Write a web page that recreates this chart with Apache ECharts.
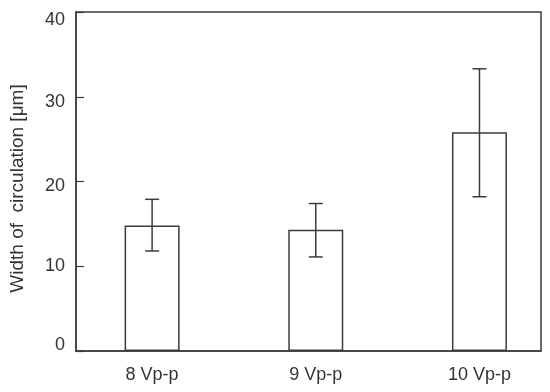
<!DOCTYPE html>
<html>
<head>
<meta charset="utf-8">
<script src="https://cdn.jsdelivr.net/npm/echarts@6/dist/echarts.min.js"></script>
<style>
html,body{margin:0;padding:0;background:#fff;}
#c{width:550px;height:392px;}
</style>
</head>
<body>
<div id="c"></div>
<script>
// Data
var categories = ['8 Vp-p', '9 Vp-p', '10 Vp-p'];
var positions = [8, 9, 10];
var means = [14.8, 14.3, 25.8];
var errLow = [11.8, 11.1, 18.2];
var errHigh = [17.9, 17.4, 33.3];
var yTicks = [0, 10, 20, 30, 40];

var lineColor = '#3c3c3c';
var textColor = '#333333';
var font = '"Liberation Sans", Arial, sans-serif';

// small vertical nudges of the y tick labels as seen in the original figure (px, + = down)
var labelNudge = {0: -6, 10: 0, 20: 5, 30: 5, 40: 8};
var rich = {};
yTicks.forEach(function (v) {
  var n = labelNudge[v] || 0;
  rich['l' + v] = {
    fontSize: 18, fontFamily: font, color: textColor,
    padding: n >= 0 ? [2 * n, 0, 0, 0] : [0, 0, -2 * n, 0]
  };
});

var barData = positions.map(function (p, i) { return [p, means[i]]; });
var errData = positions.map(function (p, i) { return [p, errLow[i], errHigh[i]]; });

var chart = echarts.init(document.getElementById('c'), null, {renderer: 'canvas'});
chart.setOption({
  backgroundColor: '#ffffff',
  animation: false,
  grid: {
    left: 72, right: 9, top: 12, bottom: 41,
    show: true, borderColor: lineColor, borderWidth: 1.5, backgroundColor: 'transparent'
  },
  xAxis: {
    type: 'value',
    min: 7.535,
    max: 10.376,
    splitLine: {show: false},
    axisLine: {show: true, onZero: false, lineStyle: {color: lineColor, width: 1.5}},
    axisTick: {show: false},
    axisLabel: {
      customValues: positions,
      margin: 15,
      fontSize: 18,
      fontFamily: font,
      color: textColor,
      formatter: function (v) {
        var i = positions.indexOf(v);
        return i >= 0 ? categories[i] : '';
      }
    }
  },
  yAxis: {
    type: 'value',
    min: yTicks[0],
    max: yTicks[yTicks.length - 1],
    interval: 10,
    splitLine: {show: false},
    axisLine: {show: true, lineStyle: {color: lineColor, width: 1.5}},
    axisTick: {show: true, inside: true, length: 8, lineStyle: {color: lineColor, width: 1.2}},
    axisLabel: {
      fontSize: 18, fontFamily: font, color: textColor, margin: 11,
      formatter: function (v) { return '{l' + v + '|' + v + '}'; },
      rich: rich
    },
    name: 'Width of  circulation [\u03bcm]',
    nameLocation: 'middle',
    nameGap: 49,
    nameTextStyle: {fontSize: 19, fontFamily: font, color: textColor, padding: [0, 14, 0, 0]}
  },
  series: [
    {
      type: 'bar',
      data: barData,
      barWidth: 55,
      itemStyle: {color: '#ffffff', borderColor: lineColor, borderWidth: 1.5},
      silent: true
    },
    {
      type: 'custom',
      data: errData,
      z: 10,
      renderItem: function (params, api) {
        var x = api.value(0);
        var lo = api.coord([x, api.value(1)]);
        var hi = api.coord([x, api.value(2)]);
        var hw = 7;
        var st = {stroke: lineColor, lineWidth: 1.5};
        return {
          type: 'group',
          children: [
            {type: 'line', shape: {x1: lo[0], y1: lo[1], x2: hi[0], y2: hi[1]}, style: st},
            {type: 'line', shape: {x1: hi[0] - hw, y1: hi[1], x2: hi[0] + hw, y2: hi[1]}, style: st},
            {type: 'line', shape: {x1: lo[0] - hw, y1: lo[1], x2: lo[0] + hw, y2: lo[1]}, style: st}
          ]
        };
      }
    }
  ]
});
</script>
</body>
</html>
